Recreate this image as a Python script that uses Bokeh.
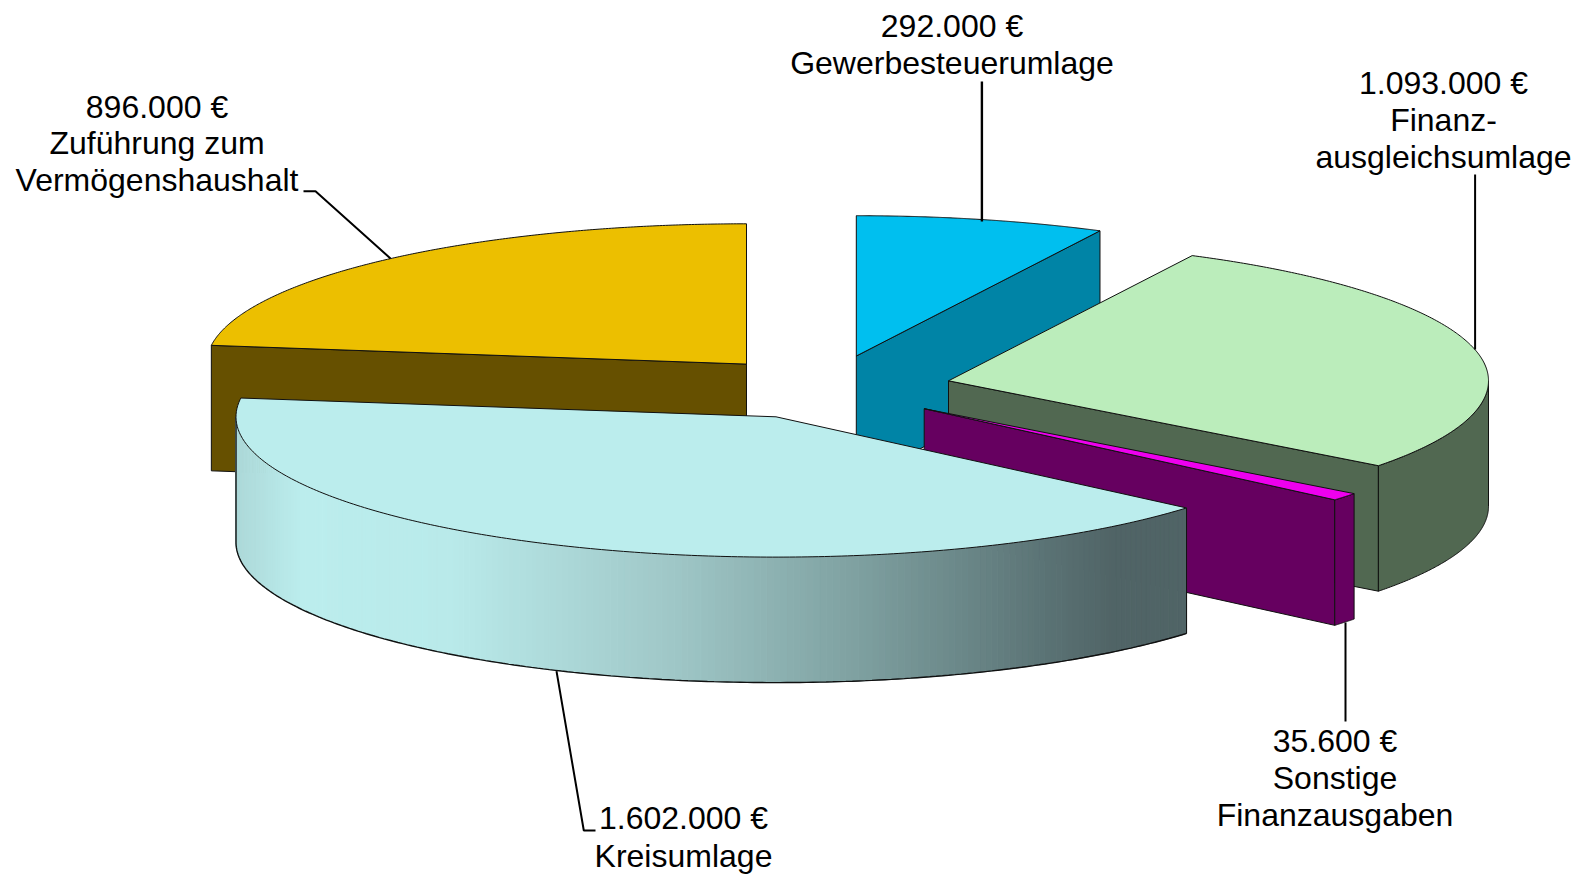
import numpy as np
from bokeh.plotting import figure
from bokeh.models import Range1d, ColumnDataSource
from bokeh.core.properties import value
from bokeh.embed import file_html
from bokeh.resources import INLINE

# ---- chart data ----
names = ["Gewerbesteuerumlage", "Finanzausgleichsumlage", "Sonstige Finanzausgaben", "Kreisumlage", "Zuführung zum Vermögenshaushalt"]
values = [292000, 1093000, 35600, 1602000, 896000]
value_labels = ["292.000 €", "1.093.000 €", "35.600 €", "1.602.000 €", "896.000 €"]
label_lines = [["Gewerbesteuerumlage"], ["Finanz-", "ausgleichsumlage"], ["Sonstige", "Finanzausgaben"], ["Kreisumlage"], ["Zuführung zum", "Vermögenshaushalt"]]

# ---- style and layout ----
top_colors = ["#00BFEF", "#BBEDBB", "#EE00EE", "#BBEDED", "#ECBF00"]
side_colors = ["#0084A6", "#516851", "#660060", "#506466", "#665000"]
centers = [(855.8, 355.5), (948.0, 380.3), (923.7, 408.2), (775.5, 416.3), (746.0, 363.6)]
RX, RY, DEPTH = 540.0, 140.3, 125.5
label_pos = [(951.5, [25, 62]), (1443, [82, 119, 156]), (1334.5, [740, 777, 814]), (683, [817, 855]), (156.5, [106, 142, 179])]
leaders = [([981.4, 981.4], [81, 221]), ([1474.6, 1474.6], [174, 349]), ([1345, 1345], [622, 721]),
           ([556, 583.3, 595], [670.7, 830, 830]), ([303, 315, 390], [190.7, 190.7, 258])]
leader_w = [2.4, 2, 2, 2, 2]
grad_x = [235, 300, 450, 666, 858, 1049, 1113, 1190]
grad_c = ["#ACD8D8", "#BBEDED", "#B9EAEA", "#A0C8C8", "#7EA0A0", "#5A7274", "#506466", "#506466"]

total = sum(values)
edges = np.concatenate([[0], np.cumsum(values)]) / total * 2 * np.pi

def pt(c, t):
    return c[0] + RX * np.sin(t), c[1] - RY * np.cos(t)

p = figure(width=1588, height=875, x_range=Range1d(0, 1588), y_range=Range1d(875, 0),
           output_backend="svg", toolbar_location=None, min_border=0,
           background_fill_color="white", border_fill_color="white", outline_line_color=None)
p.axis.visible = False
p.grid.visible = False

LINE = "#101010"

def face(xs, ys, col, lw=1.0):
    xs = list(xs); ys = list(ys)
    p.patch(xs + [xs[0]], ys + [ys[0]], fill_color=col, line_color=LINE, line_width=lw)

def cut_face(c, t, col):
    x, y = pt(c, t)
    face([c[0], x, x, c[0]], [c[1], y, y + DEPTH, c[1] + DEPTH], col)

def rim(c, t0, t1, col):
    tt = np.linspace(t0, t1, 120)
    x, y = pt(c, tt)
    face(np.r_[x, x[::-1]], np.r_[y, (y + DEPTH)[::-1]], col)

def top(c, t0, t1, col):
    tt = np.linspace(t0, t1, 240)
    x, y = pt(c, tt)
    face(np.r_[c[0], x], np.r_[c[1], y], col)

i = 4
cut_face(centers[i], edges[i], side_colors[i])
top(centers[i], edges[i], edges[i + 1], top_colors[i])
i = 0
cut_face(centers[i], edges[i + 1], side_colors[i])
top(centers[i], edges[i], edges[i + 1], top_colors[i])
i = 1
cut_face(centers[i], edges[i + 1], side_colors[i])
rim(centers[i], np.pi / 2, edges[i + 1], side_colors[i])
top(centers[i], edges[i], edges[i + 1], top_colors[i])
i = 2
cut_face(centers[i], edges[i + 1], side_colors[i])
rim(centers[i], edges[i], edges[i + 1], side_colors[i])
top(centers[i], edges[i], edges[i + 1], top_colors[i])
i = 3
c = centers[i]
tt = np.linspace(edges[i], 3 * np.pi / 2, 200)
xx, yy = pt(c, tt)
def shade(x):
    rgb = [[int(s[k:k + 2], 16) for s in grad_c] for k in (1, 3, 5)]
    return "#%02x%02x%02x" % tuple(int(round(np.interp(x, grad_x, ch))) for ch in rgb)
sx, sy, sc = [], [], []
for k in range(len(tt) - 1):
    sx.append([xx[k], xx[k + 1], xx[k + 1], xx[k]])
    sy.append([yy[k], yy[k + 1], yy[k + 1] + DEPTH, yy[k] + DEPTH])
    sc.append(shade((xx[k] + xx[k + 1]) / 2))
p.patches("x", "y", fill_color="c", line_color="c", line_width=1,
          source=ColumnDataSource(dict(x=sx, y=sy, c=sc)))
p.line(list(xx) + [xx[-1]], list(yy + DEPTH) + [yy[-1]], line_color=LINE, line_width=1.4)
p.line([xx[0], xx[0]], [yy[0], yy[0] + DEPTH], line_color=LINE, line_width=1)
top(c, edges[i], edges[i + 1], top_colors[i])

for (lx, ly), w in zip(leaders, leader_w):
    p.line(lx, ly, line_color="black", line_width=w)

for (x, ys), val, lines in zip(label_pos, value_labels, label_lines):
    for y, s in zip(ys, [val] + lines):
        p.text([x], [y], text=[s], text_font=value("Liberation Sans"), text_font_size="32px",
               text_color="black", text_align="center", text_baseline="middle")

open("out.html", "w").write(file_html(p, INLINE))
